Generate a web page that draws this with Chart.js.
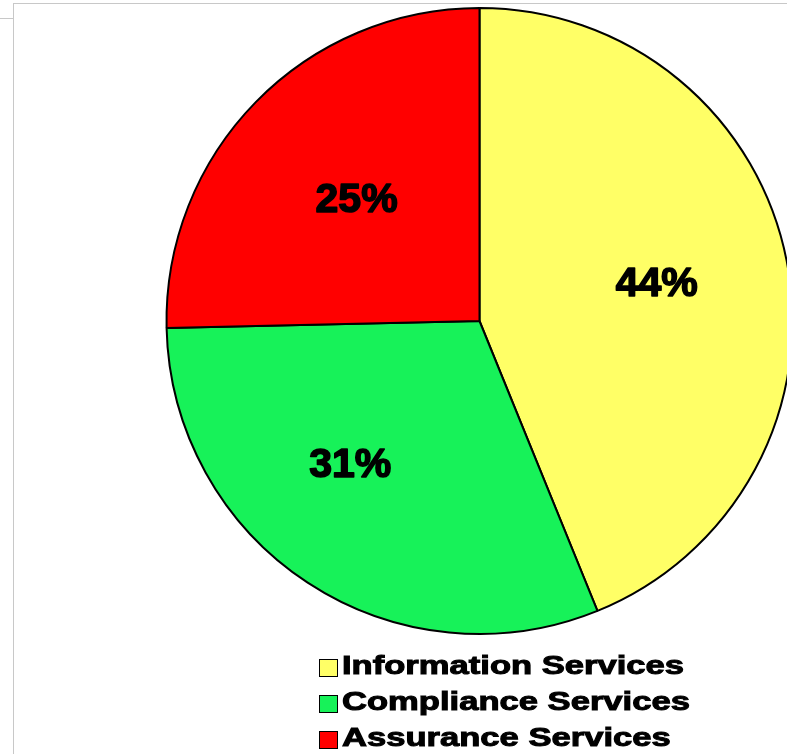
<!DOCTYPE html>
<html>
<head>
<meta charset="utf-8">
<script src="https://cdn.jsdelivr.net/npm/chart.js@4"></script>
<style>
  html, body { margin: 0; padding: 0; background: #fff; overflow: hidden; width: 787px; height: 754px; }
  #frame-top { position: absolute; left: 13px; top: 3px; right: 0; height: 0; border-top: 1px solid #c8c8c8; }
  #frame-left { position: absolute; left: 13px; top: 3px; bottom: 0; width: 0; border-left: 1px solid #c8c8c8; }
  #frame-stub { position: absolute; left: 0; top: 18px; width: 13px; height: 0; border-top: 1px solid #c8c8c8; }
  #wrap { position: absolute; left: 0; top: 0; width: 960px; height: 754px; }
  #legend { position: absolute; left: 319px; top: 650px; }
  .row { position: relative; height: 36px; }
  .box { position: absolute; left: 0; top: 9px; width: 17px; height: 16px; border: 1px solid #000; }
  .txt { position: absolute; left: 23px; top: 0; line-height: 36px; white-space: nowrap;
         font: bold 26px "Liberation Sans", Arial, sans-serif; color: #000;
         -webkit-text-stroke: 1px #000;
         transform: scaleX(1.33); transform-origin: 0 50%; }
</style>
</head>
<body>
<div id="frame-top"></div><div id="frame-left"></div><div id="frame-stub"></div>
<div id="wrap"><canvas id="pie"></canvas></div>
<div id="legend"></div>
<script>
// Revenue share by service line.
const labels = ['Information Services', 'Compliance Services', 'Assurance Services'];
const shares = [43.85, 30.8, 25.35];
const colors = ['#ffff66', '#17f259', '#ff0000'];

// where each percentage sits inside its slice (fraction of radius, turn in degrees)
const labelRadius = [0.58, 0.61, 0.557];
const labelTurn = [-1.5, 9.3, 0.8];

function el(id) { return document.getElementById(id); }

const pctLabels = {
  id: 'pctLabels',
  afterDatasetsDraw(chart) {
    const ctx = chart.ctx;
    const total = shares.reduce((a, b) => a + b, 0);
    ctx.save();
    ctx.font = 'bold 41px "Liberation Sans", Arial, sans-serif';
    ctx.fillStyle = '#000';
    ctx.strokeStyle = '#000';
    ctx.lineWidth = 1.6;
    ctx.lineJoin = 'round';
    ctx.textAlign = 'center';
    ctx.textBaseline = 'alphabetic';
    chart.getDatasetMeta(0).data.forEach((arc, i) => {
      const { x, y, startAngle, endAngle, outerRadius } = arc.getProps(['x', 'y', 'startAngle', 'endAngle', 'outerRadius'], true);
      const a = (startAngle + endAngle) / 2 + labelTurn[i] * Math.PI / 180;
      const r = outerRadius * labelRadius[i];
      const txt = Math.round(shares[i] / total * 100) + '%';
      const tx = x + r * Math.cos(a), ty = y + r * Math.sin(a) + 15;
      ctx.fillText(txt, tx, ty);
      ctx.strokeText(txt, tx, ty);
    });
    ctx.restore();
  }
};

new Chart(el('pie').getContext('2d'), {
  type: 'pie',
  data: { labels, datasets: [{ data: shares, backgroundColor: colors, borderColor: '#000', borderWidth: 2, hoverOffset: 0, offset: 0 }] },
  options: {
    responsive: true, maintainAspectRatio: false,
    animation: false, events: [],
    layout: { padding: { left: 165.5, top: 7, right: 166.5, bottom: 119 } },
    plugins: { legend: { display: false }, tooltip: { enabled: false } },
  },
  plugins: [pctLabels],
});

labels.forEach((name, i) => {
  const row = document.createElement('div');
  row.className = 'row';
  row.innerHTML = `<div class="box" style="background:${colors[i]}"></div><div class="txt">${name}</div>`;
  el('legend').appendChild(row);
});
</script>
</body>
</html>
